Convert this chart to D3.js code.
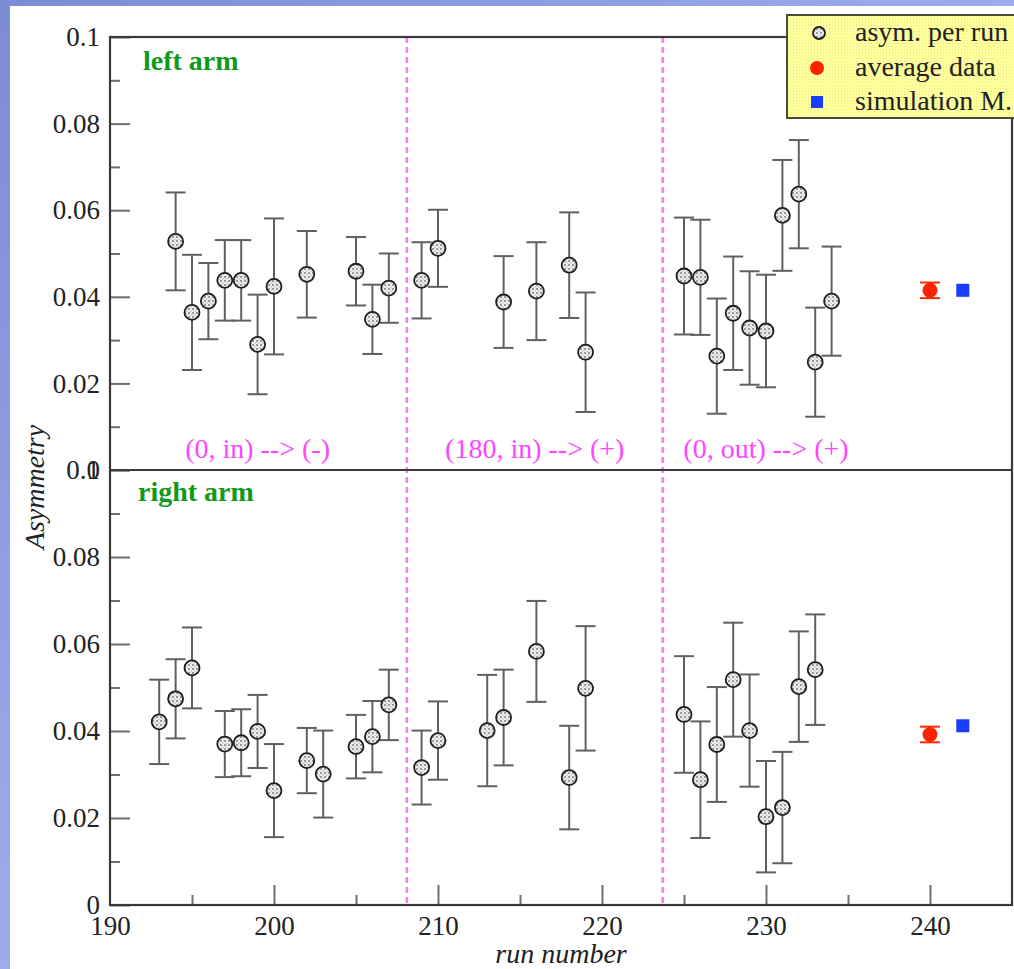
<!DOCTYPE html>
<html>
<head>
<meta charset="utf-8">
<script src="https://cdn.jsdelivr.net/npm/d3@7"></script>
<style>
  html, body { margin: 0; padding: 0; background: #fff; }
  svg { display: block; }
  text { font-family: "Liberation Serif", "DejaVu Serif", serif; }
</style>
</head>
<body>
<svg id="chart" width="1014" height="969"></svg>
<script>
// Run-by-run asymmetry, left arm
const runsLeft = [194, 195, 196, 197, 198, 199, 200, 202, 205, 206, 207, 209, 210, 214, 216, 218, 219,
                  225, 226, 227, 228, 229, 230, 231, 232, 233, 234];
const asymLeft = [0.0528, 0.0364, 0.0390, 0.0438, 0.0438, 0.0290, 0.0424, 0.0452, 0.0459, 0.0348, 0.0420,
                  0.0438, 0.0512, 0.0388, 0.0413, 0.0473, 0.0272,
                  0.0448, 0.0445, 0.0263, 0.0362, 0.0328, 0.0321, 0.0588, 0.0637, 0.0249, 0.0390];
const errLeft  = [0.0113, 0.0133, 0.0088, 0.0093, 0.0093, 0.0115, 0.0157, 0.0100, 0.0079, 0.0080, 0.0080,
                  0.0088, 0.0089, 0.0106, 0.0113, 0.0122, 0.0138,
                  0.0135, 0.0133, 0.0133, 0.0131, 0.0131, 0.0130, 0.0128, 0.0125, 0.0126, 0.0126];

// Run-by-run asymmetry, right arm
const runsRight = [193, 194, 195, 197, 198, 199, 200, 202, 203, 205, 206, 207, 209, 210, 213, 214, 216, 218, 219,
                   225, 226, 227, 228, 229, 230, 231, 232, 233];
const asymRight = [0.0421, 0.0474, 0.0545, 0.0370, 0.0373, 0.0399, 0.0263, 0.0332, 0.0301, 0.0364, 0.0387, 0.0460,
                   0.0316, 0.0378, 0.0401, 0.0431, 0.0583, 0.0293, 0.0498,
                   0.0438, 0.0288, 0.0369, 0.0518, 0.0401, 0.0203, 0.0224, 0.0502, 0.0541];
const errRight  = [0.0097, 0.0091, 0.0093, 0.0076, 0.0077, 0.0084, 0.0107, 0.0075, 0.0100, 0.0073, 0.0082, 0.0081,
                   0.0085, 0.0090, 0.0128, 0.0110, 0.0116, 0.0119, 0.0143,
                   0.0134, 0.0134, 0.0132, 0.0131, 0.0129, 0.0128, 0.0128, 0.0127, 0.0127];

// Averages and simulation
const avgRun = 240, simRun = 242;
const avgLeft = 0.0415, avgLeftErr = 0.0018, simLeft = 0.0415;
const avgRight = 0.0392, avgRightErr = 0.0018, simRight = 0.0412;

// Configuration boundaries and labels
const boundaries = [208.1, 223.7];
const configLabels = ["(0, in) --> (-)", "(180, in) --> (+)", "(0, out) --> (+)"];
const configCenters = [199, 215.9, 230];

// Axis ticks
const xMajor = [190, 200, 210, 220, 230, 240];
const xMinor = [195, 205, 215, 225, 235];
const yMajor = [0, 0.02, 0.04, 0.06, 0.08, 0.1];
const yMinor = [0.01, 0.03, 0.05, 0.07, 0.09];
const legendLabels = ["asym. per run", "average data", "simulation M."];

const svg = d3.select("#chart");
const W = 1014, H = 969;

const x = d3.scaleLinear().domain([190, 245]).range([110, 1012]);
const yTop = d3.scaleLinear().domain([0, 0.1]).range([470, 37]);
const yBot = d3.scaleLinear().domain([0, 0.1]).range([905, 470]);

const defs = svg.append("defs");
const bg = defs.append("linearGradient").attr("id", "bgGrad")
  .attr("x1", "0").attr("y1", "0").attr("x2", "1").attr("y2", "1");
bg.append("stop").attr("offset", "0%").attr("stop-color", "#7b8cd6");
bg.append("stop").attr("offset", "60%").attr("stop-color", "#a3b3ef");
bg.append("stop").attr("offset", "100%").attr("stop-color", "#8ea2e6");

// speckled fill for the per-run markers
const mp = defs.append("pattern").attr("id", "speckle").attr("patternUnits", "userSpaceOnUse")
  .attr("width", 4).attr("height", 4);
mp.append("rect").attr("width", 4).attr("height", 4).attr("fill", "#ececec");
mp.append("circle").attr("cx", 1).attr("cy", 1).attr("r", 0.8).attr("fill", "#333");
mp.append("circle").attr("cx", 3).attr("cy", 3).attr("r", 0.5).attr("fill", "#888");

// dotted yellow legend background
const lp = defs.append("pattern").attr("id", "legendFill").attr("patternUnits", "userSpaceOnUse")
  .attr("width", 3).attr("height", 3);
lp.append("rect").attr("width", 3).attr("height", 3).attr("fill", "#ffff9c");
lp.append("rect").attr("x", 1).attr("y", 1).attr("width", 1).attr("height", 1).attr("fill", "#e8e890");

// page background
svg.append("rect").attr("width", W).attr("height", H).attr("fill", "url(#bgGrad)");
svg.append("rect").attr("x", 10).attr("y", 6).attr("width", W - 10).attr("height", H - 6).attr("fill", "#fff");

const tickColor = "#6e6e6e";

function yAxes(scale) {
  const gMinor = svg.append("g").attr("transform", "translate(110,0)")
    .call(d3.axisLeft(scale).tickValues(yMinor).tickSize(-10).tickFormat(""));
  const gMajor = svg.append("g").attr("transform", "translate(110,0)")
    .call(d3.axisLeft(scale).tickValues(yMajor).tickSize(-20).tickPadding(10)
      .tickFormat(d => d === 0 ? "0" : String(+d.toFixed(2))));
  [gMinor, gMajor].forEach(g => {
    g.select(".domain").remove();
    g.selectAll(".tick line").attr("stroke", tickColor).attr("stroke-width", 2);
    g.selectAll(".tick text").attr("fill", "#222").style("font-size", "27px")
      .style("font-family", "'Liberation Serif', serif");
  });
}
yAxes(yTop);
yAxes(yBot);

// x axis (bottom panel)
const gxMinor = svg.append("g").attr("transform", "translate(0,905)")
  .call(d3.axisBottom(x).tickValues(xMinor).tickSize(-10).tickFormat(""));
const gxMajor = svg.append("g").attr("transform", "translate(0,905)")
  .call(d3.axisBottom(x).tickValues(xMajor).tickSize(-20).tickPadding(8).tickFormat(d3.format("d")));
[gxMinor, gxMajor].forEach(g => {
  g.select(".domain").remove();
  g.selectAll(".tick line").attr("stroke", tickColor).attr("stroke-width", 2);
  g.selectAll(".tick text").attr("fill", "#222").style("font-size", "27px")
    .style("font-family", "'Liberation Serif', serif").attr("dy", "0.8em");
});
gxMajor.selectAll(".tick").filter(d => d === 190).select("line").remove();

// configuration separators
svg.append("g").selectAll("line").data(boundaries).join("line")
  .attr("x1", d => x(d)).attr("x2", d => x(d))
  .attr("y1", yTop(0.1)).attr("y2", yBot(0))
  .attr("stroke", "#ff77ff").attr("stroke-width", 2.5).attr("stroke-dasharray", "6,4");

svg.append("g").selectAll("text").data(configLabels).join("text")
  .attr("x", (d, i) => x(configCenters[i])).attr("y", 458)
  .attr("text-anchor", "middle").attr("fill", "#ff44ff").style("font-size", "28px")
  .text(d => d);

// frame
const frame = svg.append("g").attr("fill", "none").attr("stroke", "#3a3a3a").attr("stroke-width", 2.2);
frame.append("rect").attr("x", 110).attr("y", yTop(0.1)).attr("width", 1012 - 110).attr("height", yBot(0) - yTop(0.1));
frame.append("line").attr("x1", 110).attr("x2", 1012).attr("y1", 470).attr("y2", 470);

// panel titles
svg.append("text").attr("x", 143).attr("y", 70).attr("fill", "#119a1a")
  .style("font-size", "28px").style("font-weight", "bold").text("left arm");
svg.append("text").attr("x", 138).attr("y", 501).attr("fill", "#119a1a")
  .style("font-size", "28px").style("font-weight", "bold").text("right arm");

// axis titles
svg.append("text").attr("transform", "translate(44,487) rotate(-90)").attr("text-anchor", "middle")
  .style("font-size", "28px").style("font-style", "italic").attr("fill", "#222").text("Asymmetry");
svg.append("text").attr("x", 561).attr("y", 963).attr("text-anchor", "middle")
  .style("font-size", "28px").style("font-style", "italic").attr("fill", "#222").text("run number");

// per-run points with error bars
function drawRuns(runs, vals, errs, y) {
  const g = svg.append("g");
  const pts = runs.map((r, i) => ({ r, v: vals[i], e: errs[i] }));
  const eb = g.append("g").attr("stroke", "#606060").attr("stroke-width", 2);
  eb.selectAll(".bar").data(pts).join("line")
    .attr("x1", d => x(d.r)).attr("x2", d => x(d.r))
    .attr("y1", d => y(d.v + d.e)).attr("y2", d => y(d.v - d.e));
  eb.selectAll(".capT").data(pts).join("line")
    .attr("x1", d => x(d.r) - 10).attr("x2", d => x(d.r) + 10)
    .attr("y1", d => y(d.v + d.e)).attr("y2", d => y(d.v + d.e));
  eb.selectAll(".capB").data(pts).join("line")
    .attr("x1", d => x(d.r) - 10).attr("x2", d => x(d.r) + 10)
    .attr("y1", d => y(d.v - d.e)).attr("y2", d => y(d.v - d.e));
  g.selectAll("circle").data(pts).join("circle")
    .attr("cx", d => x(d.r)).attr("cy", d => y(d.v)).attr("r", 7.5)
    .attr("fill", "url(#speckle)").attr("stroke", "#1e1e1e").attr("stroke-width", 1.8);
}
drawRuns(runsLeft, asymLeft, errLeft, yTop);
drawRuns(runsRight, asymRight, errRight, yBot);

// average and simulation markers
function drawSummary(avg, err, sim, y) {
  const g = svg.append("g");
  const cx = x(avgRun);
  g.append("line").attr("x1", cx).attr("x2", cx).attr("y1", y(avg + err)).attr("y2", y(avg - err))
    .attr("stroke", "#ff2a00").attr("stroke-width", 2);
  [avg + err, avg - err].forEach(v => {
    g.append("line").attr("x1", cx - 10).attr("x2", cx + 10).attr("y1", y(v)).attr("y2", y(v))
      .attr("stroke", "#ff2a00").attr("stroke-width", 2);
  });
  g.append("circle").attr("cx", cx).attr("cy", y(avg)).attr("r", 7.5).attr("fill", "#ff2200");
  g.append("rect").attr("x", x(simRun) - 6.5).attr("y", y(sim) - 6.5).attr("width", 13).attr("height", 13)
    .attr("fill", "#1a3cff");
}
drawSummary(avgLeft, avgLeftErr, simLeft, yTop);
drawSummary(avgRight, avgRightErr, simRight, yBot);

// legend
const lg = svg.append("g");
lg.append("rect").attr("x", 787).attr("y", 15).attr("width", 240).attr("height", 103)
  .attr("fill", "url(#legendFill)").attr("stroke", "#4a4a3a").attr("stroke-width", 2);
const rowY = [33, 68, 102];
lg.append("circle").attr("cx", 819).attr("cy", rowY[0]).attr("r", 6)
  .attr("fill", "url(#speckle)").attr("stroke", "#1e1e1e").attr("stroke-width", 1.8);
lg.append("circle").attr("cx", 817).attr("cy", rowY[1]).attr("r", 7).attr("fill", "#ff2200");
lg.append("rect").attr("x", 811).attr("y", rowY[2] - 6).attr("width", 12).attr("height", 12).attr("fill", "#1a3cff");
lg.selectAll(".lt").data(legendLabels).join("text")
  .attr("x", 855).attr("y", (d, i) => rowY[i] + 8).attr("fill", "#222")
  .style("font-size", "28px").text(d => d);
</script>
</body>
</html>
